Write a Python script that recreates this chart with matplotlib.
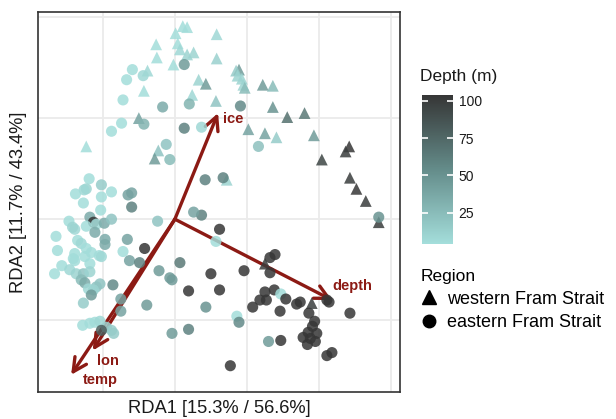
import numpy as np
import matplotlib
matplotlib.use("Agg")
import matplotlib.pyplot as plt
from matplotlib.colors import LinearSegmentedColormap, Normalize
from matplotlib.cm import ScalarMappable
from matplotlib.lines import Line2D

plt.rcParams["font.family"] = ["Liberation Sans", "DejaVu Sans"]

# --- site scores, western Fram Strait (triangles) ---
west_rda1 = [0.11, 0.17, 0.01, -0.26, 0.04, 0.07, 0.17, 0.26, -0.25, 0.58,
             0.58, -0.02, -0.38, -0.43, 0.33, 0.43, 0.24, 0.57, -0.50, 0.89,
             0.85, 0.87, 0.93, 0.95, 0.97, 1.22, 1.36, 1.36, 1.56, 1.80,
             1.02, 1.25, 1.41, 1.93, 2.42, 2.37, 2.04, 2.43, 2.52, 2.65,
             2.83, 0.72, -1.23, -0.23, -0.28, 1.90, 1.25]
west_rda2 = [1.91, 1.90, 1.84, 1.73, 1.74, 1.68, 1.63, 1.65, 1.60, 1.83,
             1.59, 1.53, 1.47, 1.27, 1.38, 1.34, 1.23, 1.17, 1.00, 1.48,
             1.47, 1.42, 1.39, 1.33, 1.30, 1.33, 1.32, 1.11, 1.01, 1.05,
             0.89, 0.85, 0.81, 0.83, 0.72, 0.67, 0.59, 0.41, 0.30, 0.18,
             -0.03, 0.39, 0.72, 0.68, 0.60, -0.83, -0.44]
west_depth = [5, 5, 5, 5, 5, 8, 10, 10, 5, 8,
              12, 5, 8, 5, 10, 45, 8, 20, 40, 45,
              15, 10, 10, 10, 25, 45, 25, 50, 70, 65,
              40, 40, 15, 45, 104, 100, 95, 100, 104, 100,
              100, 10, 5, 20, 45, 100, 100]

# --- site scores, eastern Fram Strait (circles) ---
east_rda1 = [0.13, -0.59, -0.67, -0.44, -0.72, -0.17, 0.20, -0.74, -0.88, -0.43,
             0.13, 0.37, 0.91, -0.12, -0.07, 0.42, 0.67, 1.16, 0.37, 2.83,
             0.62, 0.57, 0.26, -0.24,
             -1.19, -1.23, -1.26, -1.02, -1.38, -0.88, -1.02, -1.27, -0.65, -0.60,
             -0.60, -1.03, -1.18, -1.47, -1.13, -1.09, -0.98, -0.88, -1.23, -1.39,
             -1.42, -1.11, -1.65, -1.35, -1.30, -0.97, -0.66, -0.97, -1.23, -1.63,
             -1.39, -1.25, -1.16, -1.05, -0.72, -0.42, -1.02, -1.41, -0.63, -0.49,
             -1.39, -1.18, -1.67, -1.57, -1.46, -1.37, -1.27, -1.30, -1.18, -1.25,
             -1.04, -1.09, -0.86, -1.20, -1.13, -1.16, -0.75, -1.27, -0.75, -0.39,
             -1.28, -1.18, -1.11, -1.04, -0.95, -0.88, -0.85, -1.02,
             0.07, -0.22, -0.07, -0.04, 0.50, 0.19, 0.62, 0.43, -0.04, 0.19,
             1.32, 1.39, 0.96, 1.32, 1.25, 1.18, 1.27, 1.38, 1.47, 1.54,
             1.08, 1.46, 1.69, 1.74, 1.86, 2.11, 2.14, 2.43, 0.86, 0.89,
             1.94, 1.91, 1.85, 1.97, 1.78, 1.88, 1.84, 1.95, 1.47, 1.30,
             2.11, 2.18, 0.77]
east_rda2 = [1.53, 1.48, 1.38, 1.42, 1.18, 1.11, 1.14, 0.95, 0.87, 0.94,
             0.90, 0.91, 1.12, 0.74, 0.59, 0.39, 0.41, 0.72, 0.04, 0.02,
             -0.10, -0.22, 0.07, -0.02,
             0.40, 0.30, 0.29, 0.34, 0.25, 0.27, 0.22, 0.16, 0.24, 0.26,
             0.12, 0.09, 0.02, -0.02, -0.03, -0.05, -0.04, 0.00, -0.07, -0.10,
             -0.08, -0.13, -0.17, -0.21, -0.24, -0.20, -0.20, -0.25, -0.29, -0.31,
             -0.34, -0.37, -0.33, -0.36, -0.32, -0.29, -0.37, -0.39, -0.41, -0.43,
             -0.41, -0.44, -0.54, -0.46, -0.50, -0.54, -0.54, -0.60, -0.52, -0.63,
             -0.64, -0.67, -0.65, -0.69, -0.70, -0.75, -0.79, -0.83, -0.91, -0.85,
             -1.05, -1.03, -1.02, -1.01, -1.07, -1.10, -1.13, -1.10,
             -0.43, -0.51, -0.58, -0.60, -0.54, -0.71, -0.70, -0.87, -1.13, -1.09,
             -0.38, -0.35, -0.51, -0.53, -0.72, -0.80, -0.80, -0.70, -0.74, -0.79,
             -0.87, -0.91, -0.84, -0.82, -0.93, -0.80, -0.82, -0.93, -0.96, -1.02,
             -1.01, -1.06, -1.12, -1.13, -1.17, -1.18, -1.24, -1.21, -1.20, -1.21,
             -1.35, -1.32, -1.45]
east_depth = [45, 5, 5, 8, 5, 35, 30, 5, 5, 30,
              60, 8, 55, 20, 25, 60, 60, 22, 60, 50,
              104, 5, 40, 20,
              5, 10, 8, 15, 5, 5, 5, 5, 40, 40,
              60, 5, 35, 5, 104, 5, 35, 20, 5, 8,
              10, 35, 5, 5, 8, 35, 40, 35, 5, 5,
              5, 5, 5, 5, 5, 104, 8, 5, 40, 60,
              5, 5, 5, 5, 8, 10, 20, 25, 10, 35,
              20, 20, 55, 8, 10, 45, 40, 15, 40, 45,
              5, 5, 5, 8, 10, 15, 15, 80,
              65, 45, 45, 45, 104, 104, 104, 50, 45, 60,
              104, 104, 104, 104, 104, 104, 104, 104, 5, 104,
              104, 104, 104, 104, 104, 104, 104, 104, 5, 55,
              104, 104, 104, 104, 104, 104, 104, 104, 104, 45,
              104, 104, 104]

# --- environmental fitted vectors ---
env_names = ["ice", "depth", "lon", "temp"]
env_rda1 = [0.60, 2.18, -1.14, -1.44]
env_rda2 = [1.05, -0.80, -1.30, -1.54]

# label offsets from arrow tips (layout only)
label_offset = {"ice": (0.21, -0.06), "depth": (0.28, 0.14),
                "lon": (0.21, -0.10), "temp": (0.40, -0.05)}

arrow_col = "#8c1a14"
cmap = LinearSegmentedColormap.from_list("depth", ["#a4dedb", "#648c8a", "#363636"])
norm = Normalize(vmin=4, vmax=104)

fig = plt.figure(figsize=(6.16, 4.19), dpi=100)
ax = fig.add_axes([38 / 616, 27 / 419, 362 / 616, 380 / 419])

for name, x, y in zip(env_names, env_rda1, env_rda2):
    ax.annotate("", xy=(x, y), xytext=(0, 0),
                arrowprops=dict(arrowstyle="->,head_length=0.75,head_width=0.38",
                                color=arrow_col, lw=2.4, shrinkA=0, shrinkB=0,
                                mutation_scale=13),
                zorder=2)
    dx, dy = label_offset[name]
    ax.text(x + dx, y + dy, name, color=arrow_col, fontsize=10.5,
            fontweight="bold", ha="center", va="center", zorder=2)

ax.scatter(west_rda1, west_rda2, c=west_depth, cmap=cmap, norm=norm,
           marker="^", s=72, alpha=0.85, linewidths=0, zorder=3)
ax.scatter(east_rda1, east_rda2, c=east_depth, cmap=cmap, norm=norm,
           marker="o", s=64, alpha=0.85, linewidths=0, zorder=3)

ax.set_xlim(-1.90, 3.125)
ax.set_ylim(-1.71, 2.05)
ax.set_xticks([-1, 0, 1, 2, 3])
ax.set_yticks([-1, 0, 1, 2])
ax.tick_params(length=0, labelbottom=False, labelleft=False)
ax.grid(True, color="#ebebeb", lw=1.3)
ax.set_axisbelow(True)
for sp in ax.spines.values():
    sp.set_color("#333333")
    sp.set_linewidth(1.2)
ax.set_xlabel("RDA1 [15.3% / 56.6%]", fontsize=13.2, color="#1a1a1a", labelpad=6)
ax.set_ylabel("RDA2 [11.7% / 43.4%]", fontsize=13.2, color="#1a1a1a", labelpad=8)

# colour bar
cax = fig.add_axes([422 / 616, 175 / 419, 31 / 616, 149 / 419])
cb = fig.colorbar(ScalarMappable(norm=norm, cmap=cmap), cax=cax)
cb.outline.set_visible(False)
cb.set_ticks([25, 50, 75, 100])
cax.tick_params(length=0, labelsize=10, labelcolor="#1a1a1a", pad=4)
cax.hlines([25, 50, 75, 100], 0, 0.2, color="white", lw=1.2)
cax.hlines([25, 50, 75, 100], 0.8, 1, color="white", lw=1.2)
fig.text(420 / 616, 1 - 76 / 419, "Depth (m)", fontsize=12.5,
         color="#1a1a1a", ha="left", va="center")

# shape legend
handles = [Line2D([], [], marker="^", ls="", color="black", markersize=9.5),
           Line2D([], [], marker="o", ls="", color="black", markersize=9)]
leg = fig.legend(handles, ["western Fram Strait", "eastern Fram Strait"],
                 title="Region", loc="upper left",
                 bbox_to_anchor=(413 / 616, 1 - 262 / 419), frameon=False,
                 fontsize=13, title_fontsize=12.5, handlelength=1.0,
                 handletextpad=0.5, labelspacing=0.35, borderaxespad=0)
leg._legend_box.align = "left"

fig.savefig("out.png", dpi=100)
